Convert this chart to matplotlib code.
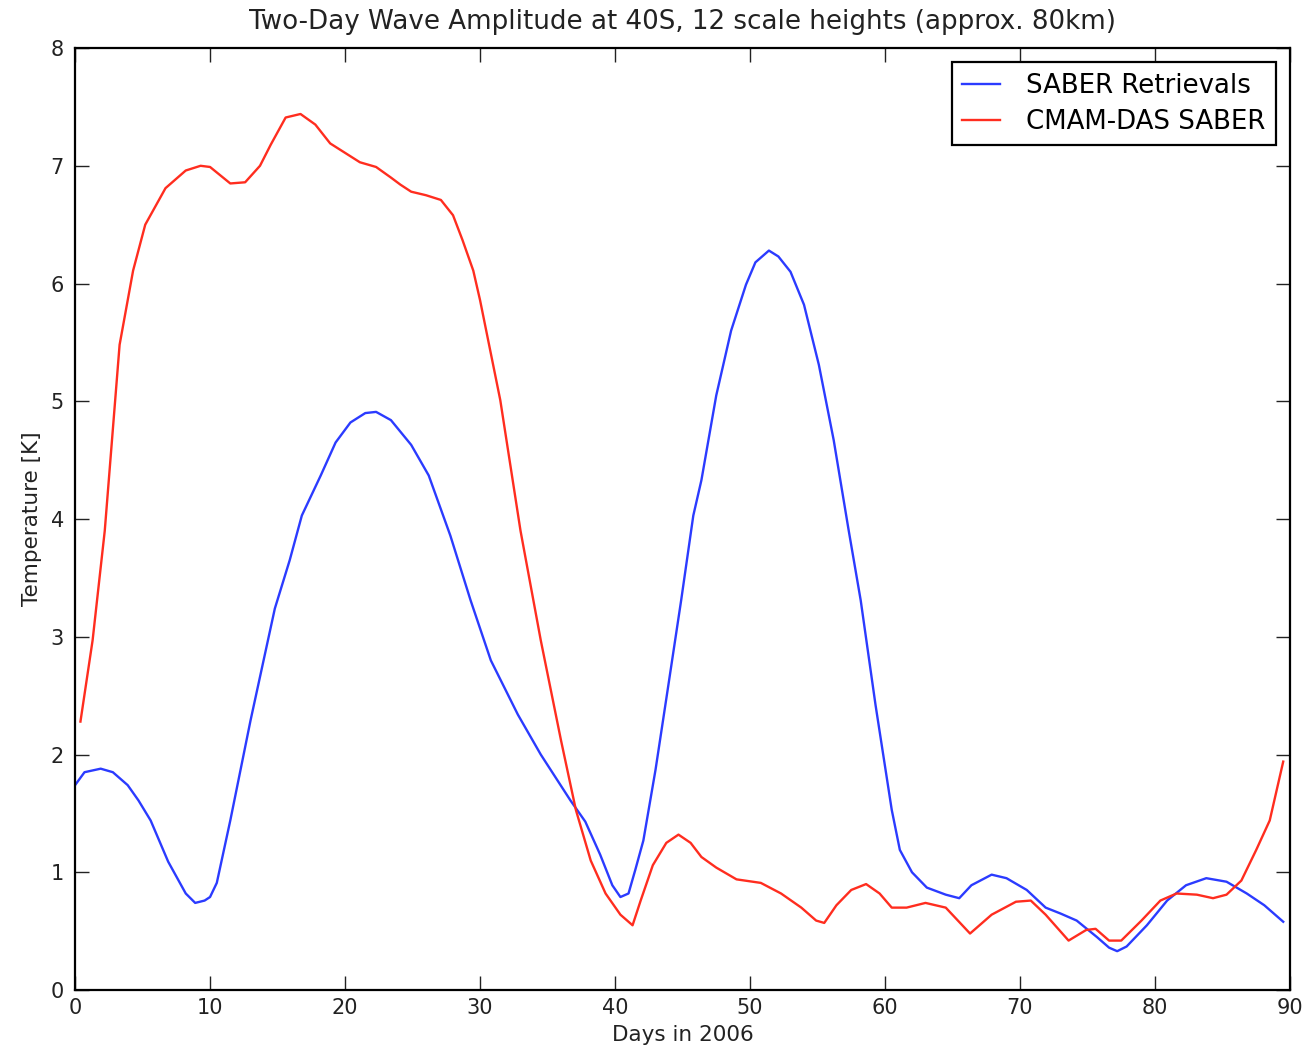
"""
Two-day wave amplitude at 40S, SABER vs CMAM-DAS
"""

import numpy as np
from matplotlib import pyplot as plt

# SABER retrievals (blue)
saber_day = [0.0, 0.7, 1.9, 2.8, 3.9, 4.7, 5.6, 6.9, 8.2, 8.9, 9.6, 10.0, 10.5, 11.5,
             13.0, 14.8, 15.9, 16.8, 18.2, 19.3, 20.4, 21.5, 22.3, 23.4, 24.9, 26.2,
             27.8, 29.3, 30.8, 32.8, 34.5, 36.7, 37.8, 38.9, 39.8, 40.4, 41.0, 41.5,
             42.1, 43.0, 43.9, 44.9, 45.8, 46.4, 47.5, 48.6, 49.7, 50.4, 51.4, 52.1,
             53.0, 54.0, 55.1, 56.2, 57.3, 58.2, 59.3, 60.5, 61.1, 62.0, 63.1, 64.5,
             65.5, 66.4, 67.9, 69.0, 70.5, 71.9, 73.0, 74.2, 75.7, 76.6, 77.2, 77.9,
             79.4, 80.9, 82.3, 83.8, 85.3, 86.8, 88.1, 89.5]
saber_amp = [1.74, 1.85, 1.88, 1.85, 1.74, 1.61, 1.44, 1.09, 0.82, 0.74, 0.76, 0.79, 0.91, 1.44,
             2.29, 3.24, 3.65, 4.03, 4.37, 4.65, 4.82, 4.90, 4.91, 4.84, 4.63, 4.37,
             3.86, 3.31, 2.80, 2.34, 2.00, 1.61, 1.43, 1.15, 0.89, 0.79, 0.82, 1.02,
             1.27, 1.87, 2.55, 3.31, 4.03, 4.33, 5.05, 5.60, 5.99, 6.18, 6.28, 6.23,
             6.10, 5.82, 5.31, 4.67, 3.91, 3.31, 2.42, 1.53, 1.19, 1.00, 0.87, 0.81,
             0.78, 0.89, 0.98, 0.95, 0.85, 0.70, 0.65, 0.59, 0.45, 0.36, 0.33, 0.37,
             0.55, 0.76, 0.89, 0.95, 0.92, 0.82, 0.72, 0.58]

# CMAM-DAS sampled as SABER (red)
cmam_day = [0.4, 1.3, 2.2, 3.3, 4.3, 5.2, 6.7, 8.2, 9.3, 10.0, 11.5, 12.6, 13.7, 14.5,
            15.6, 16.7, 17.8, 18.9, 20.0, 21.1, 22.3, 23.4, 24.1, 24.9, 26.0, 27.1,
            28.0, 28.7, 29.5, 30.0, 31.5, 33.0, 34.5, 36.0, 37.1, 38.2, 39.3, 40.4,
            41.3, 41.9, 42.8, 43.8, 44.7, 45.6, 46.4, 47.5, 49.0, 50.8, 52.3, 53.8,
            54.9, 55.5, 56.4, 57.5, 58.6, 59.6, 60.5, 61.6, 63.0, 64.5, 66.3, 67.9,
            69.7, 70.8, 71.9, 73.6, 74.9, 75.6, 76.6, 77.5, 79.0, 80.4, 81.6, 83.1,
            84.3, 85.3, 86.4, 87.5, 88.5, 89.5]
cmam_amp = [2.28, 2.97, 3.90, 5.48, 6.11, 6.50, 6.81, 6.96, 7.00, 6.99, 6.85, 6.86, 7.00, 7.18,
            7.41, 7.44, 7.35, 7.19, 7.11, 7.03, 6.99, 6.90, 6.84, 6.78, 6.75, 6.71,
            6.58, 6.37, 6.11, 5.86, 5.01, 3.90, 2.97, 2.12, 1.53, 1.10, 0.82, 0.64,
            0.55, 0.76, 1.06, 1.25, 1.32, 1.25, 1.13, 1.04, 0.94, 0.91, 0.82, 0.70,
            0.59, 0.57, 0.72, 0.85, 0.90, 0.82, 0.70, 0.70, 0.74, 0.70, 0.48, 0.64,
            0.75, 0.76, 0.64, 0.42, 0.51, 0.52, 0.42, 0.42, 0.59, 0.76, 0.82, 0.81,
            0.78, 0.81, 0.93, 1.19, 1.44, 1.94]

fig = plt.figure(figsize=(13.03, 10.49), dpi=100)
ax = fig.add_axes([0.0576, 0.0562, 0.9324, 0.898])

ax.plot(saber_day, saber_amp, color="#2b3bff", lw=1.7, label="SABER Retrievals")
ax.plot(cmam_day, cmam_amp, color="#ff2d1f", lw=1.7, label="CMAM-DAS SABER")

ax.set_xlim(0, 90)
ax.set_ylim(0, 8)
ax.set_xticks(np.arange(0, 91, 10))
ax.set_yticks(np.arange(0, 9, 1))
ax.tick_params(direction="in", top=True, right=True, length=10, width=1,
               labelsize=15, colors="#222222", pad=8)
ax.tick_params(axis="x", pad=6)
for s in ax.spines.values():
    s.set_linewidth(1.6)

ax.set_xlabel("Days in 2006", fontsize=15.5, color="#222222", labelpad=5)
ax.set_ylabel("Temperature [K]", fontsize=15.5, color="#222222", labelpad=6)
ax.set_title("Two-Day Wave Amplitude at 40S, 12 scale heights (approx. 80km)",
             fontsize=18.8, color="#222222", pad=14)

leg = ax.legend(loc="upper right", fontsize=18.7, fancybox=False, framealpha=1,
                edgecolor="black", handlelength=1.45, handletextpad=1.0,
                borderpad=0.4, labelspacing=0.4, borderaxespad=0.55)
leg.get_frame().set_linewidth(1.6)

plt.savefig("out.png", dpi=100)
plt.close()
